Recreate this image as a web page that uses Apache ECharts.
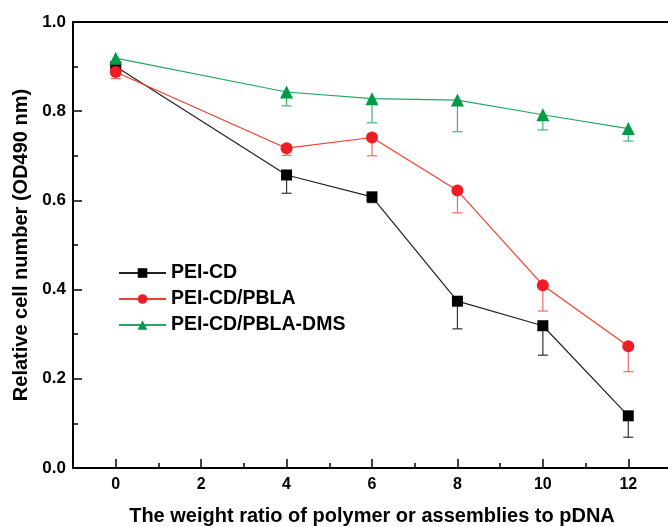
<!DOCTYPE html>
<html>
<head>
<meta charset="utf-8">
<script src="https://cdn.jsdelivr.net/npm/echarts@6/dist/echarts.min.js"></script>
<style>
  html, body { margin: 0; padding: 0; background: #fff; }
  #chart { width: 668px; height: 527px; }
</style>
</head>
<body>
<div id="chart"></div>
<script>
  // weight ratio (x)
  const ratios = [0, 4, 6, 8, 10, 12];
  // OD490 means and lower error
  const peiCd = [0.900, 0.657, 0.608, 0.374, 0.319, 0.117];
  const peiCdErr = [0.010, 0.041, 0.013, 0.062, 0.066, 0.048];
  const peiPbla = [0.888, 0.717, 0.741, 0.622, 0.410, 0.273];
  const peiPblaErr = [0.015, 0.016, 0.041, 0.050, 0.058, 0.057];
  const peiDms = [0.919, 0.843, 0.828, 0.825, 0.792, 0.761];
  const peiDmsErr = [0.010, 0.031, 0.054, 0.071, 0.034, 0.028];

  const majorX = [0, 2, 4, 6, 8, 10, 12];
  const minorX = [1, 3, 5, 7, 9, 11];

  const font = '"Liberation Sans", Arial, Helvetica, sans-serif';

  const pts = (ys) => ratios.map((x, i) => [x, ys[i]]);
  const errPts = (ys, es) => ratios.map((x, i) => [x, ys[i], es[i]]);

  function errBars(color) {
    return function (params, api) {
      const x = api.value(0), y = api.value(1), e = api.value(2);
      const top = api.coord([x, y]);
      const bot = api.coord([x, y - e]);
      const w = 5;
      return {
        type: 'group',
        children: [
          { type: 'line', shape: { x1: top[0], y1: top[1], x2: bot[0], y2: bot[1] }, style: { stroke: color, lineWidth: 1.2 } },
          { type: 'line', shape: { x1: bot[0] - w, y1: bot[1], x2: bot[0] + w, y2: bot[1] }, style: { stroke: color, lineWidth: 1.2 } }
        ]
      };
    };
  }

  const chart = echarts.init(document.getElementById('chart'));

  const lineSeries = (name, ys, lineColor, markColor, symbol, size) => ({
    name: name,
    type: 'line',
    data: pts(ys),
    symbol: symbol,
    symbolSize: size,
    z: 3,
    lineStyle: { color: lineColor, width: 1.2 },
    itemStyle: { color: markColor },
    emphasis: { disabled: true }
  });

  const errSeries = (ys, es, color) => ({
    type: 'custom',
    data: errPts(ys, es),
    renderItem: errBars(color),
    encode: { x: 0, y: 1 },
    z: 2,
    silent: true
  });

  chart.setOption({
    animation: false,
    backgroundColor: '#fff',
    grid: { left: 73, top: 22, width: 598, height: 446, outerBoundsMode: 'none' },
    legend: {
      left: 113,
      top: 258,
      orient: 'vertical',
      itemWidth: 47,
      itemHeight: 12,
      itemGap: 6,
      data: ['PEI-CD', 'PEI-CD/PBLA', 'PEI-CD/PBLA-DMS'],
      textStyle: { fontFamily: font, fontWeight: 'bold', fontSize: 19.5, color: '#000' }
    },
    xAxis: [{
      type: 'value',
      min: -1,
      max: 13,
      name: 'The weight ratio of polymer or assemblies to pDNA',
      nameLocation: 'middle',
      nameGap: 38,
      nameTextStyle: { fontFamily: font, fontWeight: 'bold', fontSize: 20, color: '#000' },
      axisLine: { onZero: false, lineStyle: { color: '#000', width: 2 } },
      axisTick: { inside: true, length: 9, lineStyle: { color: '#000', width: 1.5 }, customValues: majorX },
      axisLabel: { customValues: majorX, margin: 9, fontFamily: font, fontWeight: 'bold', fontSize: 16, color: '#000' },
      splitLine: { show: false }
    }, {
      type: 'value',
      min: -1,
      max: 13,
      position: 'bottom',
      axisLine: { show: false, onZero: false },
      axisTick: { inside: true, length: 5, lineStyle: { color: '#000', width: 1.5 }, customValues: minorX },
      axisLabel: { show: false },
      splitLine: { show: false }
    }, {
      type: 'value',
      min: -1,
      max: 13,
      position: 'top',
      axisLine: { onZero: false, lineStyle: { color: '#000', width: 2 } },
      axisTick: { show: false },
      axisLabel: { show: false },
      splitLine: { show: false }
    }],
    yAxis: {
      type: 'value',
      min: 0,
      max: 1,
      interval: 0.2,
      name: 'Relative cell number (OD490 nm)',
      nameLocation: 'middle',
      nameGap: 42,
      nameTextStyle: { fontFamily: font, fontWeight: 'bold', fontSize: 20, color: '#000' },
      axisLine: { onZero: false, lineStyle: { color: '#000', width: 2 } },
      axisTick: { inside: true, length: 9, lineStyle: { color: '#000', width: 1.5 } },
      minorTick: { show: true, splitNumber: 2, length: 5, lineStyle: { color: '#000', width: 1.5 } },
      axisLabel: { margin: 7, formatter: (v) => v.toFixed(1), fontFamily: font, fontWeight: 'bold', fontSize: 17, color: '#000' },
      splitLine: { show: false }
    },
    series: [
      errSeries(peiCd, peiCdErr, '#333'),
      errSeries(peiPbla, peiPblaErr, '#f06b5e'),
      errSeries(peiDms, peiDmsErr, '#3db872'),
      lineSeries('PEI-CD', peiCd, '#222', '#000', 'rect', 11),
      lineSeries('PEI-CD/PBLA', peiPbla, '#f0402f', '#ee1c25', 'circle', 12),
      lineSeries('PEI-CD/PBLA-DMS', peiDms, '#22a862', '#009b48', 'triangle', 13)
    ]
  });
</script>
</body>
</html>
